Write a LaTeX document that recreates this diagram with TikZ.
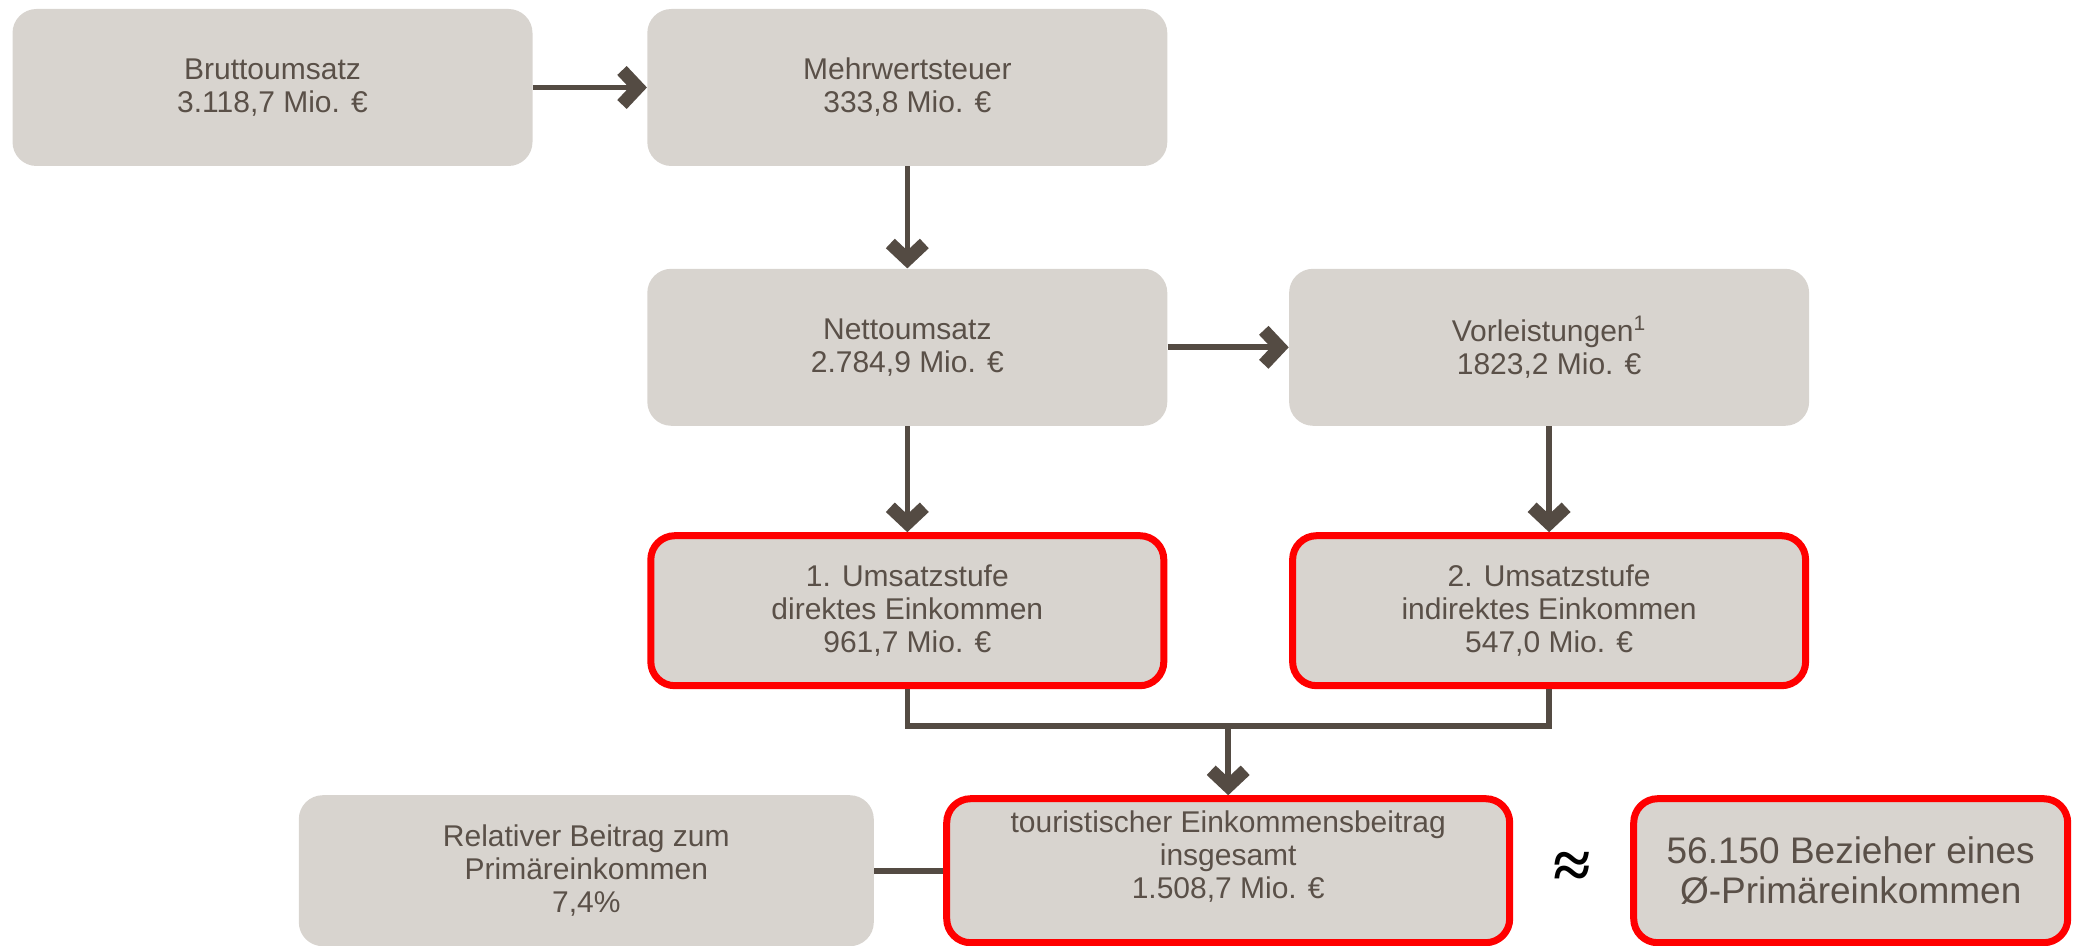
\documentclass[tikz,border=0pt]{standalone}
\usepackage{amsmath}
\usepackage{fontspec}
\setmainfont{Liberation Sans}
\newfontfamily\approxfont{Liberation Serif}
\usepackage{tikz}
\usetikzlibrary{positioning,arrows.meta,calc}

\definecolor{boxgray}{HTML}{D8D4CF}
\definecolor{inkbrown}{HTML}{5A5048}
\definecolor{arrowbrown}{HTML}{544B43}
\definecolor{alertred}{HTML}{FF0000}

\tikzset{
	box/.style={rectangle, rounded corners=12pt, fill=boxgray, text=inkbrown,
		minimum width=260pt, minimum height=78.5pt, inner sep=0pt, align=center,
		font=\fontsize{15}{16.5}\selectfont},
	hibox/.style={box, draw=alertred, line width=3.5pt,
		minimum width=256.5pt, minimum height=75pt},
	link/.style={draw=arrowbrown, line width=2.8pt},
	flow/.style={link, -{Straight Barb[sharp, length=8pt, width=17pt, line width=6.5pt]}}
}

\begin{document}
\begin{tikzpicture}[node distance=51pt and 57pt]
			\useasboundingbox (0,0) rectangle (1040.5pt,-473pt);

			\node (a1) [box] at (136.25pt,-43.75pt) {Bruttoumsatz\\3.118,7 Mio. €};
			\node (a2) [box, right=of a1] {Mehrwertsteuer\\333,8 Mio. €};

			\node (b2) [box, below=of a2] {Nettoumsatz\\2.784,9 Mio. €};
			\node (b3) [box, right=60.5pt of b2] {Vorleistungen\textsuperscript{1}\\1823,2 Mio. €};

			\node (c2) [hibox, below=53pt of b2] {1. Umsatzstufe\\direktes Einkommen\\961,7 Mio. €};
			\node (c3) [hibox, below=53pt of b3] {2. Umsatzstufe\\indirektes Einkommen\\547,0 Mio. €};

			\coordinate (join) at ($($(c2.south)!0.5!(c3.south)$)+(0,-18.5pt)$);

			\node (d2) [hibox, below=34.5pt of join, minimum width=281.5pt, minimum height=72pt, text depth=16pt]
				{touristischer Einkommensbeitrag\\insgesamt\\1.508,7 Mio. €};
			\node (d1) [box, left=34.5pt of d2, minimum width=287.5pt, minimum height=75.5pt]
				{Relativer Beitrag zum\\Primäreinkommen\\7,4\%};
			\node (d3) [hibox, right=58.5pt of d2, minimum width=217pt, minimum height=72pt,
				font=\fontsize{18.5}{20}\selectfont] {56.150 Bezieher eines\\Ø-Primäreinkommen};
			\path (d2.east) -- (d3.west) node (approx) [midway, font=\approxfont\bfseries\fontsize{34}{34}\selectfont] {≈};

			\draw[flow] (a1) -- (a2);
			\draw[flow] (a2) -- (b2);
			\draw[flow] (b2) -- (b3);
			\draw[flow] (b2) -- (c2);
			\draw[flow] (b3) -- (c3);
			\draw[link] (c2.south) |- (join) -| (c3.south);
			\draw[flow] (join) -- (d2);
			\draw[link] (d1) -- (d2);
		\end{tikzpicture}
\end{document}
